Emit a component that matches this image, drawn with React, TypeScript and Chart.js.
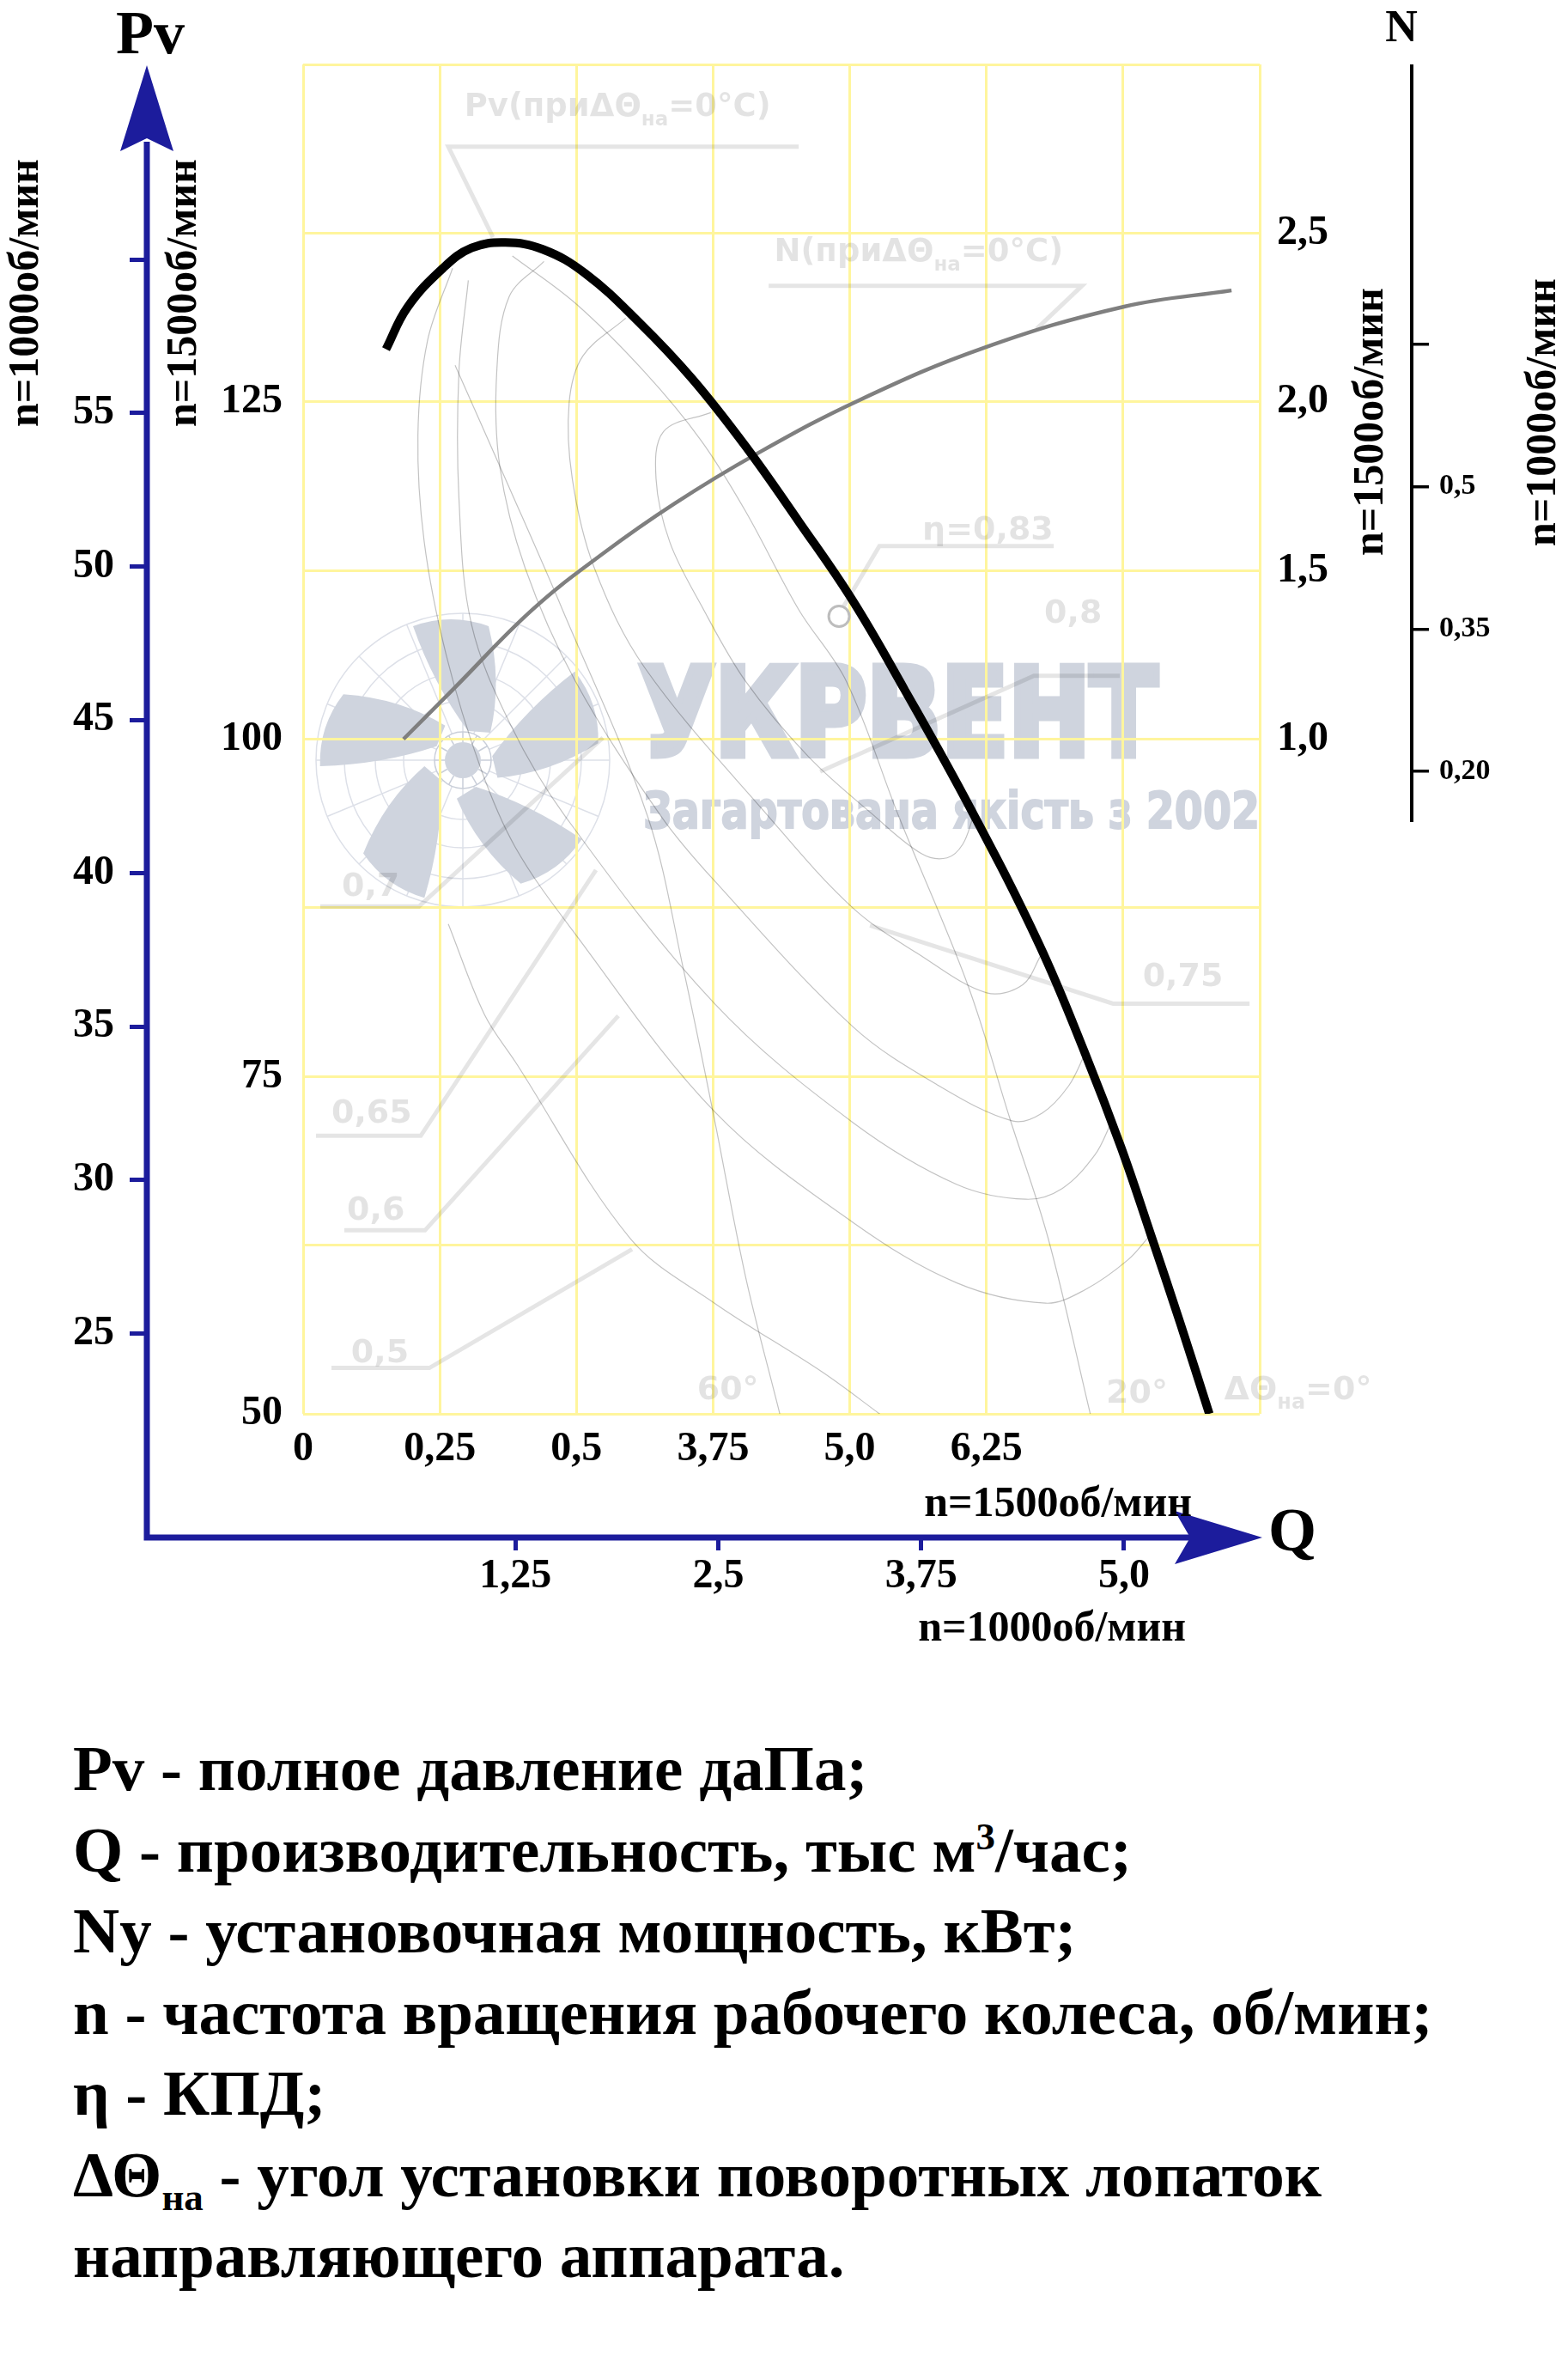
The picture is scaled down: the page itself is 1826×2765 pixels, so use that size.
import { useEffect, useRef } from 'react';
import Chart from 'chart.js/auto';

const SERIF = '"Liberation Serif", "Times New Roman", serif';
const SANS = '"DejaVu Sans", "Noto Sans", sans-serif';
const BLUE = '#1c1c9c';
const GRID_YELLOW = '#fff59d';
const NOTE_GRAY = 'rgba(0, 0, 0, 0.11)';
const THIN_GRAY = 'rgba(0, 0, 0, 0.24)';
const LEADER_GRAY = 'rgba(0, 0, 0, 0.1)';
const WATERMARK = '#cfd4de';
const LOGO_LINES = '#dde0e8';

// Q, тыс м3/час — верхняя шкала (n=1500 об/мин), подписи как на оригинале
const qTicks1500 = [0, 1.25, 2.5, 3.75, 5.0, 6.25, 7.5, 8.75];
const qLabels1500 = ['0', '0,25', '0,5', '3,75', '5,0', '6,25', '', ''];
// Q — синяя шкала (n=1000 об/мин)
const qRange1000 = [-0.058, 5.836];
const qTicks1000 = [1.25, 2.5, 3.75, 5.0];
const qLabels1000 = ['1,25', '2,5', '3,75', '5,0'];

// Pv, даПа
const pvTicks1500 = [50, 62.5, 75, 87.5, 100, 112.5, 125, 137.5, 150];
const pvLabels1500 = ['50', '', '75', '', '100', '', '125', '', ''];
const pvRange1000 = [22.37, 66.37];
const pvTicks1000 = [25, 30, 35, 40, 45, 50, 55, 60];
const pvLabels1000 = ['25', '30', '35', '40', '45', '50', '55', ''];

// N, кВт
const nTicks1500 = [-1, -0.5, 0, 0.5, 1.0, 1.5, 2.0, 2.5, 3.0];
const nLabels1500 = ['', '', '', '', '1,0', '1,5', '2,0', '2,5', ''];
const nRange1000 = [-0.477, 0.945];
const nTicks1000 = [0.2, 0.35, 0.5, 0.65];
const nLabels1000 = ['0,20', '0,35', '0,5', ''];

// Pv при ΔΘна=0°
const pvQ = [0.758, 0.954, 1.279, 1.54, 1.849, 2.191, 2.582, 3.071, 3.559, 4.047, 4.536, 5.024, 5.499, 6.101, 6.732, 7.153, 7.484, 7.753, 8.024, 8.289];
const pvValues = [128.9, 132.0, 134.9, 136.4, 136.8, 136.3, 134.5, 130.9, 126.7, 121.7, 116.1, 110.3, 103.7, 94.9, 84.8, 76.7, 69.7, 63.3, 56.7, 50.0];

// N при ΔΘна=0°
const nQ = [0.918, 1.379, 2.094, 2.742, 3.396, 4.145, 5.082, 6.229, 7.51, 8.492];
const nValues = [1.0, 1.15, 1.383, 1.55, 1.698, 1.845, 2.004, 2.16, 2.282, 2.33];

// линии КПД, [Q, Pv]
const eta080 = [[3.729, 124.2], [3.297, 122.8], [3.228, 119.3], [3.354, 114.6], [3.643, 109.9], [4.046, 104.3], [4.622, 98.7], [5.198, 94.5], [5.659, 91.5], [5.89, 91.2], [6.033, 92.2], [6.132, 94.3]];
const eta075 = [[2.951, 131.2], [2.559, 128.4], [2.433, 124.9], [2.462, 119.3], [2.663, 112.7], [3.124, 105.3], [4.254, 94.3], [5.027, 87.5], [5.623, 84.1], [6.253, 81.2], [6.582, 81.8], [6.75, 84.0]];
const eta070 = [[2.203, 135.4], [1.885, 132.8], [1.771, 127.2], [1.799, 120.2], [2.03, 112.7], [2.49, 104.3], [3.273, 94.3], [3.763, 89.5], [5.027, 78.7], [5.797, 74.4], [6.492, 71.7], [6.762, 72.3], [7.002, 74.3], [7.153, 76.7]];
const eta065 = [[1.511, 134.0], [1.425, 127.2], [1.425, 117.9], [1.54, 108.5], [1.901, 101.0], [2.396, 94.3], [3.763, 80.4], [5.027, 71.6], [5.98, 67.0], [6.612, 65.9], [6.943, 66.7], [7.243, 69.2], [7.393, 71.6]];
const eta060 = [[1.367, 134.9], [1.137, 129.5], [1.05, 122.5], [1.108, 114.6], [1.31, 106.2], [1.626, 97.8], [1.94, 92.0], [2.467, 85.8], [3.763, 72.4], [5.027, 64.2], [5.98, 59.7], [6.792, 58.2], [7.153, 59.2], [7.543, 61.4], [7.754, 63.3]];
const eta050 = [[1.328, 86.3], [1.658, 79.6], [1.94, 76.1], [2.992, 63.0], [3.763, 58.2], [4.748, 53.1], [5.289, 49.9]];
// линии углов ΔΘна
const angle60 = [[1.39, 127.7], [1.877, 118.8], [2.372, 109.6], [3.15, 94.3], [3.48, 82.9], [3.763, 71.8], [4.046, 60.2], [4.36, 50.0]];
const angle20 = [[1.914, 135.8], [2.49, 132.3], [3.124, 127.2], [3.643, 122.1], [4.046, 116.9], [4.533, 109.6], [4.968, 104.3], [5.447, 94.3], [6.079, 81.8], [6.464, 71.9], [6.815, 63.0], [7.2, 50.0]];
// точка максимального КПД
const etaMaxPoint = [[4.902, 109.1]];

// выноски и подписи
const leaderPv = [[4.533, 143.9], [1.328, 143.9], [1.736, 137.2]];
const leaderN = [[4.258, 133.6], [7.125, 133.6], [6.709, 130.4]];
const leader083 = [[6.866, 114.3], [5.271, 114.3], [4.941, 109.8]];
const leader080 = [[7.47, 104.7], [6.685, 104.7], [4.729, 97.6]];
const leader075 = [[8.657, 80.4], [7.408, 80.4], [5.185, 86.2]];
const leader070 = [[0.157, 87.6], [1.06, 87.6], [2.742, 100.1]];
const leader065 = [[0.118, 70.6], [1.076, 70.6], [2.679, 90.3]];
const leader060 = [[0.377, 63.6], [1.115, 63.6], [2.883, 79.5]];
const leader050 = [[0.259, 53.4], [1.155, 53.4], [3.009, 62.2]];

// '_' переключает нижний индекс
const noteTexts = ['Pv(приΔΘ_на_=0°C)', 'N(приΔΘ_на_=0°C)', 'η=0,83', '0,8', '0,75', '0,7', '0,65', '0,6', '0,5', '60°', '20°', 'ΔΘ_на_=0°'];
const noteQ = [1.474, 4.308, 5.664, 6.779, 7.679, 0.353, 0.259, 0.401, 0.438, 3.603, 7.345, 8.425];
const notePv = [146.2, 135.4, 114.8, 108.6, 81.7, 88.4, 71.6, 64.4, 53.8, 51.1, 50.8, 51.1];
const noteSizes = [37, 37, 38, 38, 38, 38, 38, 38, 38, 38, 38, 38];

const speed1500 = 'n=1500об/мин';
const speed1000 = 'n=1000об/мин';

const toPoints = (xs: number[], ys: number[]) => xs.map((x, i) => ({ x, y: ys[i] }));
const pairPoints = (pairs: number[][]) => pairs.map(([x, y]) => ({ x, y }));

const thinLine = (pairs: number[][]) => ({
  data: pairPoints(pairs),
  borderColor: THIN_GRAY,
  borderWidth: 1.2,
  tension: 0.35,
  pointRadius: 0,
  fill: false,
});

const leaderLine = (pairs: number[][]) => ({
  data: pairPoints(pairs),
  borderColor: LEADER_GRAY,
  borderWidth: 5,
  tension: 0,
  pointRadius: 0,
  fill: false,
});

function drawRich(ctx: any, text: string, x: number, y: number, size: number) {
  let cx = x;
  text.split('_').forEach((part, i) => {
    const sub = i % 2 === 1;
    ctx.font = `bold ${sub ? Math.round(size * 0.62) : size}px ${SANS}`;
    ctx.fillText(part, cx, sub ? y + size * 0.3 : y);
    cx += ctx.measureText(part).width;
  });
}

// текст, сжатый по ширине, с обводкой для жирности
function fitText(ctx: any, text: string, font: string, x: number, y: number, width: number, weight: number) {
  ctx.font = font;
  const w = ctx.measureText(text).width;
  ctx.save();
  ctx.translate(x + weight / 2, y - weight / 2);
  ctx.scale((width - weight) / w, 1);
  ctx.lineWidth = weight;
  ctx.lineJoin = 'miter';
  ctx.fillText(text, 0, 0);
  if (weight > 0) ctx.strokeText(text, 0, 0);
  ctx.restore();
}

function rotatedText(ctx: any, text: string, x: number, y: number) {
  ctx.save();
  ctx.translate(x, y);
  ctx.rotate(-Math.PI / 2);
  ctx.textAlign = 'center';
  ctx.textBaseline = 'middle';
  ctx.fillText(text, 0, 0);
  ctx.restore();
}

function drawFanLogo(ctx: any, cx: number, cy: number) {
  ctx.save();
  ctx.translate(cx, cy);
  ctx.strokeStyle = LOGO_LINES;
  ctx.lineWidth = 1.5;
  [171, 138, 102, 69].forEach((r) => {
    ctx.beginPath();
    ctx.arc(0, 0, r, 0, Math.PI * 2);
    ctx.stroke();
  });
  for (let k = 0; k < 16; k++) {
    const t = (k * Math.PI) / 8;
    ctx.beginPath();
    ctx.moveTo(33 * Math.cos(t), 33 * Math.sin(t));
    ctx.lineTo(171 * Math.cos(t), 171 * Math.sin(t));
    ctx.stroke();
  }
  ctx.fillStyle = WATERMARK;
  for (let k = 0; k < 5; k++) {
    ctx.save();
    ctx.rotate((k * 2 * Math.PI) / 5);
    ctx.beginPath();
    ctx.moveTo(6, -34);
    ctx.quadraticCurveTo(-34, -88, -58, -156);
    ctx.quadraticCurveTo(-14, -172, 30, -156);
    ctx.quadraticCurveTo(46, -92, 32, -32);
    ctx.closePath();
    ctx.fill();
    ctx.restore();
  }
  ctx.strokeStyle = '#c9ced9';
  ctx.beginPath();
  ctx.arc(0, 0, 33, 0, Math.PI * 2);
  ctx.stroke();
  ctx.beginPath();
  ctx.arc(0, 0, 21, 0, Math.PI * 2);
  ctx.fill();
  for (let k = 0; k < 12; k++) {
    const t = (k * Math.PI) / 6;
    ctx.beginPath();
    ctx.moveTo(21 * Math.cos(t), 21 * Math.sin(t));
    ctx.lineTo(33 * Math.cos(t), 33 * Math.sin(t));
    ctx.stroke();
  }
  ctx.restore();
}

const decorPlugin = {
  id: 'decor',
  beforeDraw(chart: any) {
    // водяной знак под сеткой
    const { ctx, chartArea: a } = chart;
    ctx.save();
    drawFanLogo(ctx, a.left + 186, a.top + 810);
    ctx.fillStyle = WATERMARK;
    ctx.strokeStyle = WATERMARK;
    ctx.textAlign = 'left';
    ctx.textBaseline = 'alphabetic';
    fitText(ctx, 'УКРВЕНТ', `bold 140px ${SANS}`, a.left + 387, a.top + 808, 612, 9);
    fitText(ctx, 'Загартована якість з 2002', `bold 59px ${SANS}`, a.left + 395, a.top + 890, 720, 2);
    ctx.restore();
  },
  beforeDatasetsDraw(chart: any) {
    const { ctx, scales } = chart;
    ctx.save();
    ctx.fillStyle = NOTE_GRAY;
    ctx.textAlign = 'left';
    ctx.textBaseline = 'alphabetic';
    noteTexts.forEach((t, i) => {
      drawRich(ctx, t, scales.x.getPixelForValue(noteQ[i]), scales.y.getPixelForValue(notePv[i]), noteSizes[i]);
    });
    ctx.restore();
  },
  afterDraw(chart: any) {
    const { ctx, chartArea: a, scales } = chart;
    const ax = scales.y2.right;
    const ay = scales.x2.top;
    const nx = scales.yN2.left;
    ctx.save();
    // синие оси со стрелками
    ctx.strokeStyle = BLUE;
    ctx.fillStyle = BLUE;
    ctx.lineWidth = 7;
    ctx.beginPath();
    ctx.moveTo(ax, a.top + 90);
    ctx.lineTo(ax, ay + 3.5);
    ctx.moveTo(ax - 3.5, ay);
    ctx.lineTo(a.right - 78, ay);
    ctx.stroke();
    ctx.beginPath();
    ctx.moveTo(ax, a.top + 1);
    ctx.lineTo(ax + 31, a.top + 101);
    ctx.lineTo(ax, a.top + 86);
    ctx.lineTo(ax - 31, a.top + 101);
    ctx.closePath();
    ctx.fill();
    const tip = a.right + 3;
    ctx.beginPath();
    ctx.moveTo(tip, ay);
    ctx.lineTo(tip - 102, ay + 31);
    ctx.lineTo(tip - 84, ay);
    ctx.lineTo(tip - 102, ay - 31);
    ctx.closePath();
    ctx.fill();
    // ось N для n=1000
    ctx.strokeStyle = '#000';
    ctx.lineWidth = 4;
    ctx.beginPath();
    ctx.moveTo(nx, a.top);
    ctx.lineTo(nx, a.top + 882);
    ctx.stroke();
    // подписи осей
    ctx.fillStyle = '#000';
    ctx.textBaseline = 'alphabetic';
    ctx.textAlign = 'center';
    ctx.font = `bold 72px ${SERIF}`;
    ctx.fillText('Pv', ax + 4, a.top - 13);
    ctx.font = `bold 52px ${SERIF}`;
    ctx.fillText('N', nx - 12, a.top - 27);
    ctx.textAlign = 'left';
    ctx.font = `bold 72px ${SERIF}`;
    ctx.fillText('Q', a.right + 10, ay + 15);
    ctx.font = `bold 50px ${SERIF}`;
    ctx.textAlign = 'right';
    ctx.fillText(speed1500, a.right - 79, a.bottom + 119);
    ctx.fillText(speed1000, a.right - 86, ay + 120);
    rotatedText(ctx, speed1000, 31, a.top + 266);
    rotatedText(ctx, speed1500, ax + 44, a.top + 266);
    rotatedText(ctx, speed1500, a.right + 130, a.top + 416);
    rotatedText(ctx, speed1000, nx + 154, a.top + 405);
    ctx.restore();
  },
};

const tickFont = (size: number) => ({ family: SERIF, size, weight: 'bold' as const });
const setTicks = (values: number[]) => (scale: any) => {
  scale.ticks = values.map((value) => ({ value }));
};

export default function App() {
  const canvasRef = useRef<HTMLCanvasElement>(null);

  useEffect(() => {
    if (!canvasRef.current) return;
    const chart = new Chart(canvasRef.current, {
      type: 'line',
      data: {
        datasets: [
          {
            data: toPoints(pvQ, pvValues),
            borderColor: '#000',
            borderWidth: 10,
            borderCapStyle: 'butt',
            tension: 0.4,
            pointRadius: 0,
            fill: false,
          },
          {
            data: toPoints(nQ, nValues),
            yAxisID: 'yN',
            borderColor: '#7f7f7f',
            borderWidth: 4.5,
            tension: 0.4,
            pointRadius: 0,
            fill: false,
          },
          {
            data: pairPoints(etaMaxPoint),
            showLine: false,
            pointRadius: 12,
            pointBorderWidth: 3,
            pointBorderColor: '#bdbdbd',
            pointBackgroundColor: 'rgba(0,0,0,0)',
          },
          thinLine(eta080),
          thinLine(eta075),
          thinLine(eta070),
          thinLine(eta065),
          thinLine(eta060),
          thinLine(eta050),
          thinLine(angle60),
          thinLine(angle20),
          leaderLine(leaderPv),
          leaderLine(leaderN),
          leaderLine(leader083),
          leaderLine(leader080),
          leaderLine(leader075),
          leaderLine(leader070),
          leaderLine(leader065),
          leaderLine(leader060),
          leaderLine(leader050),
        ] as any,
      },
      options: {
        animation: false,
        responsive: false,
        maintainAspectRatio: false,
        events: [],
        layout: { padding: { top: 75, left: 0, right: 0, bottom: 0 } },
        plugins: { legend: { display: false }, tooltip: { enabled: false } },
        scales: {
          x: {
            type: 'linear',
            position: 'bottom',
            weight: 0,
            min: 0,
            max: 8.75,
            afterBuildTicks: setTicks(qTicks1500),
            afterFit: (s: any) => { s.height = 144; },
            ticks: { callback: (_v: any, i: number) => qLabels1500[i], font: tickFont(48), color: '#000', padding: 13, maxRotation: 0, autoSkip: false },
            grid: { color: GRID_YELLOW, lineWidth: 3, drawTicks: false },
            border: { display: false },
          },
          x2: {
            type: 'linear',
            position: 'bottom',
            weight: 1,
            min: qRange1000[0],
            max: qRange1000[1],
            afterBuildTicks: setTicks(qTicks1000),
            afterFit: (s: any) => { s.height = 170; },
            ticks: { callback: (_v: any, i: number) => qLabels1000[i], font: tickFont(48), color: '#000', padding: 2, maxRotation: 0, autoSkip: false },
            grid: { drawOnChartArea: false, color: BLUE, lineWidth: 5, tickLength: 15 },
            border: { display: false },
          },
          y: {
            type: 'linear',
            position: 'left',
            weight: 0,
            min: 50,
            max: 150,
            afterBuildTicks: setTicks(pvTicks1500),
            afterFit: (s: any) => { s.width = 182; },
            ticks: { callback: (_v: any, i: number) => pvLabels1500[i], font: tickFont(48), color: '#000', padding: 24, autoSkip: false },
            grid: { color: GRID_YELLOW, lineWidth: 3, drawTicks: false },
            border: { display: false },
          },
          y2: {
            type: 'linear',
            position: 'left',
            weight: 1,
            min: pvRange1000[0],
            max: pvRange1000[1],
            afterBuildTicks: setTicks(pvTicks1000),
            afterFit: (s: any) => { s.width = 171; },
            ticks: { callback: (_v: any, i: number) => pvLabels1000[i], font: tickFont(48), color: '#000', padding: 18, autoSkip: false },
            grid: { drawOnChartArea: false, color: BLUE, lineWidth: 5, tickLength: 20 },
            border: { display: false },
          },
          yN: {
            type: 'linear',
            position: 'right',
            weight: 0,
            min: -1,
            max: 3,
            afterBuildTicks: setTicks(nTicks1500),
            afterFit: (s: any) => { s.width = 177; },
            ticks: { callback: (_v: any, i: number) => nLabels1500[i], font: tickFont(48), color: '#000', padding: 20, autoSkip: false },
            grid: { drawOnChartArea: false, drawTicks: false },
            border: { display: false },
          },
          yN2: {
            type: 'linear',
            position: 'right',
            weight: 1,
            min: nRange1000[0],
            max: nRange1000[1],
            afterBuildTicks: setTicks(nTicks1000),
            afterFit: (s: any) => { s.width = 182; },
            ticks: { callback: (_v: any, i: number) => nLabels1000[i], font: tickFont(34), color: '#000', padding: 12, autoSkip: false },
            grid: { drawOnChartArea: false, color: '#000', lineWidth: 3.5, tickLength: 20 },
            border: { display: false },
          },
        },
      } as any,
      plugins: [decorPlugin],
    });
    return () => chart.destroy();
  }, []);

  const supStyle = { fontSize: '0.6em', verticalAlign: 'super', lineHeight: 0 } as const;
  const subStyle = { fontSize: '0.6em', verticalAlign: 'sub', lineHeight: 0 } as const;

  return (
    <div style={{ position: 'absolute', left: 0, top: 0, width: 1826, height: 2765, background: '#fff', overflow: 'hidden' }}>
      <canvas ref={canvasRef} width={1826} height={1960} style={{ position: 'absolute', left: 0, top: 0, width: 1826, height: 1960 }} />
      <div
        style={{
          position: 'absolute',
          left: 85,
          top: 2012,
          fontFamily: SERIF,
          fontWeight: 'bold',
          fontSize: 75,
          lineHeight: '94.5px',
          whiteSpace: 'nowrap',
          color: '#000',
        }}
      >
        <div>Pv - полное давление даПа;</div>
        <div>Q - производительность, тыс м<sup style={supStyle}>3</sup>/час;</div>
        <div>Ny - установочная мощность, кВт;</div>
        <div>n - частота вращения рабочего колеса, об/мин;</div>
        <div>η - КПД;</div>
        <div>ΔΘ<sub style={subStyle}>на</sub> - угол установки поворотных лопаток</div>
        <div>направляющего аппарата.</div>
      </div>
    </div>
  );
}
